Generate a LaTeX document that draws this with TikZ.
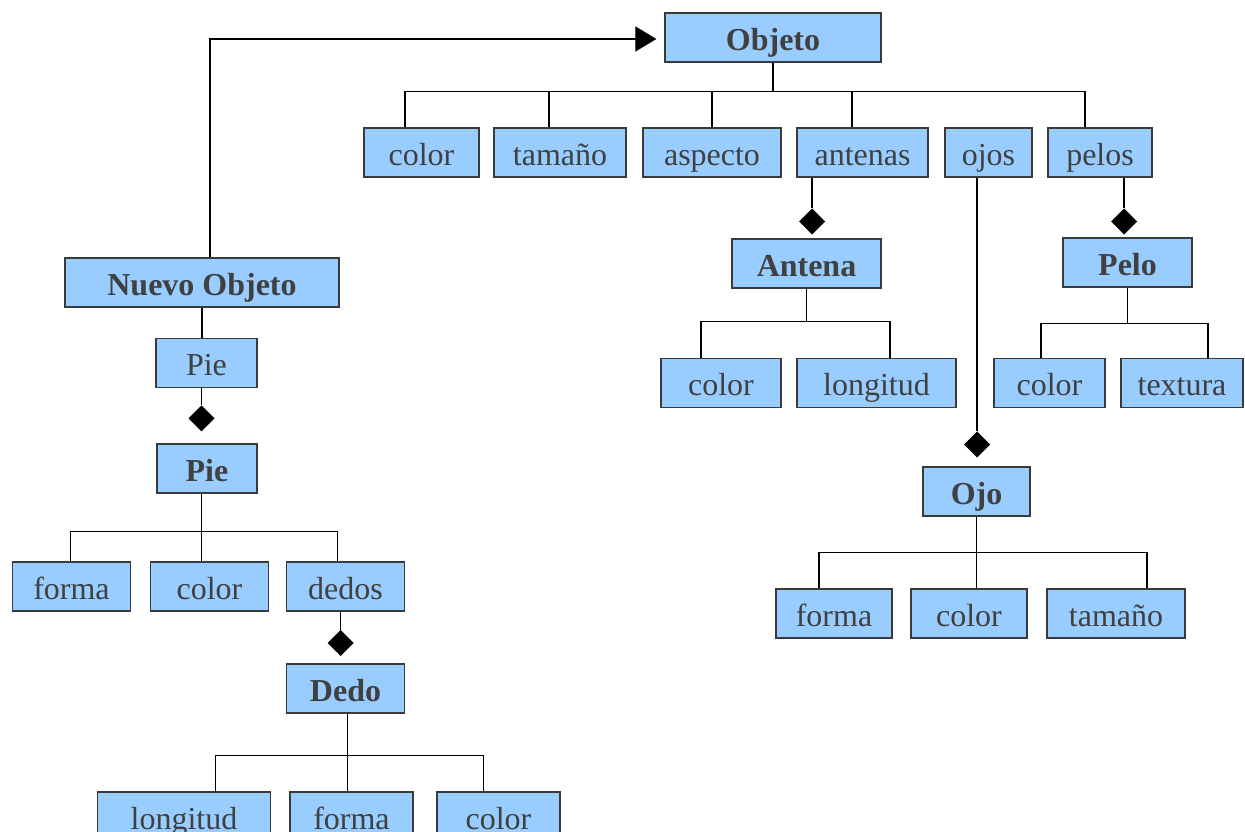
\documentclass[tikz,border=0pt]{standalone}
\usepackage{fontspec}
\setmainfont{Liberation Serif}
\usepackage{tikz}
\usetikzlibrary{arrows.meta,shapes.geometric,calc,positioning}
\definecolor{boxfill}{HTML}{99CCFF}
\definecolor{boxline}{HTML}{3A3A3A}
\definecolor{boxtext}{HTML}{404040}
\tikzstyle{box}  =[rectangle, draw=boxline, fill=boxfill, line width=0.35pt,
                   minimum height=0.49cm, inner sep=0pt, text=boxtext,
                   text height=0.95em, text depth=0.23em,
                   font=\fontsize{9.1pt}{11pt}\selectfont]
\tikzstyle{heavy}=[box, font=\fontsize{9.1pt}{11pt}\selectfont\bfseries]
\tikzstyle{owns} =[diamond, fill=black, draw=none, minimum size=0.26cm,
                   inner sep=0pt, outer sep=0pt]
\tikzstyle{link} =[line width=0.3pt, draw=black]

\begin{document}
\begin{tikzpicture}[node distance=1cm, on grid]
  \useasboundingbox (0,0) rectangle (12.45,-8.32);
  % clase principal
  \node[heavy, minimum width=2.16cm] (objeto) at (7.73,-0.375) {Objeto};
  \node[box, minimum width=1.15cm] (tcolor)   [below left=1.15cm and 3.515cm of objeto] {color};
  \node[box, minimum width=1.32cm] (ttamano)  [right=1.385cm of tcolor] {tamaño};
  \node[box, minimum width=1.38cm] (taspecto) [right=1.52cm of ttamano] {aspecto};
  \node[box, minimum width=1.31cm] (tantenas) [right=1.505cm of taspecto] {antenas};
  \node[box, minimum width=0.87cm] (tojos)    [right=1.26cm of tantenas] {ojos};
  \node[box, minimum width=1.04cm] (tpelos)   [right=1.115cm of tojos] {pelos};

  % antena
  \node[owns] (antdia) [below left=0.69cm and 0.505cm of tantenas] {};
  \node[heavy, minimum width=1.49cm] (antena) [below left=1.11cm and 0.56cm of tantenas] {Antena};
  \node[box, minimum width=1.20cm] (acolor)    [below left=1.195cm and 0.855cm of antena] {color};
  \node[box, minimum width=1.59cm] (alongitud) [right=1.555cm of acolor] {longitud};

  % pelo
  \node[owns] (peldia) [below right=0.69cm and 0.24cm of tpelos] {};
  \node[heavy, minimum width=1.29cm] (pelo) [below right=1.10cm and 0.275cm of tpelos] {Pelo};
  \node[box, minimum width=1.11cm] (pcolor)   [below left=1.205cm and 0.78cm of pelo] {color};
  \node[box, minimum width=1.22cm] (ptextura) [right=1.325cm of pcolor] {textura};

  % ojo
  \node[owns] (ojodia) [below left=2.92cm and 0.115cm of tojos] {};
  \node[heavy, minimum width=1.07cm] (ojo) [below left=3.39cm and 0.12cm of tojos] {Ojo};
  \node[box, minimum width=1.16cm] (ocolor)  [below left=1.22cm and 0.075cm of ojo] {color};
  \node[box, minimum width=1.16cm] (oforma)  [left=1.35cm of ocolor] {forma};
  \node[box, minimum width=1.38cm] (otamano) [right=1.47cm of ocolor] {tamaño};

  % nuevo objeto
  \node[heavy, minimum width=2.74cm] (nuevo) [below left=2.45cm and 5.71cm of objeto] {Nuevo Objeto};
  \node[box, minimum width=1.01cm] (pie) [below right=0.805cm and 0.045cm of nuevo] {Pie};
  \node[owns] (piedia) [below left=0.555cm and 0.05cm of pie] {};
  \node[heavy, minimum width=1.00cm] (piedef) [below right=1.055cm and 0.005cm of pie] {Pie};
  \node[box, minimum width=1.18cm] (fcolor) [below right=1.18cm and 0.025cm of piedef] {color};
  \node[box, minimum width=1.18cm] (fforma) [left=1.38cm of fcolor] {forma};
  \node[box, minimum width=1.18cm] (fdedos) [right=1.36cm of fcolor] {dedos};
  \node[owns] (dedodia) [below left=0.565cm and 0.05cm of fdedos] {};
  \node[heavy, minimum width=1.18cm] (dedo) [below=1.02cm of fdedos] {Dedo};
  \node[box, minimum width=1.23cm] (dforma)    [below right=1.28cm and 0.06cm of dedo] {forma};
  \node[box, minimum width=1.73cm] (dlongitud) [left=1.675cm of dforma] {longitud};
  \node[box, minimum width=1.23cm] (dcolor)    [right=1.47cm of dforma] {color};

  % buses
  \coordinate (busobj) at ($(objeto.south)+(0,-0.29)$);
  \coordinate (busant) at ($(antena.south)+(0,-0.33)$);
  \coordinate (buspel) at ($(pelo.south)+(0,-0.36)$);
  \coordinate (busojo) at ($(ojo.south)+(0,-0.36)$);
  \coordinate (buspie) at ($(piedef.south)+(0,-0.38)$);
  \coordinate (busded) at ($(dedo.south)+(0,-0.42)$);

  \draw[link] (objeto.south) -- (busobj);
  \draw[link] ([xshift=-1.65mm]tcolor.north) |- (busobj) -| ([xshift=-1.5mm]tpelos.north);
  \foreach \n/\s in {ttamano/-1.1mm, taspecto/0mm, tantenas/-1.05mm}
    \draw[link] ([xshift=\s]\n.north) -- ([xshift=\s]\n.north |- busobj);

  \draw[link] (tantenas.south -| antdia) -- (antdia);
  \draw[link] (antena.south) -- (busant);
  \draw[link] ([xshift=-2mm]acolor.north) |- (busant) -| ([xshift=1.35mm]alongitud.north);

  \draw[link] (tpelos.south -| peldia) -- (peldia);
  \draw[link] (pelo.south) -- (buspel);
  \draw[link] ([xshift=-0.85mm]pcolor.north) |- (buspel) -| ([xshift=2.6mm]ptextura.north);

  \draw[link] (tojos.south -| ojodia) -- (ojodia);
  \draw[link] (ojo.south) -- (ojo.south |- ocolor.north);
  \draw[link] ([xshift=-1.5mm]oforma.north) |- (busojo) -| ([xshift=3.1mm]otamano.north);

  \draw[link, -{Triangle[length=0.21cm, width=0.25cm]}]
    ([xshift=0.8mm]nuevo.north) |- ([xshift=-0.8mm, yshift=-0.15mm]objeto.west);
  \draw[link] (nuevo.south) -- (nuevo.south |- pie.north);
  \draw[link] (pie.south -| piedia) -- (piedia);
  \draw[link] (piedef.south -| piedia) -- (fcolor.north -| piedia);
  \draw[link] ([xshift=-0.1mm]fforma.north) |- (buspie -| piedia) -| ([xshift=-0.8mm]fdedos.north);

  \draw[link] (fdedos.south -| dedodia) -- (dedodia);
  \draw[link] ([xshift=0.2mm]dedo.south) -- ([xshift=0.2mm]dedo.south |- dforma.north);
  \draw[link] ([xshift=3.15mm]dlongitud.north) |- (busded) -| ([xshift=-1.5mm]dcolor.north);
\end{tikzpicture}
\end{document}
